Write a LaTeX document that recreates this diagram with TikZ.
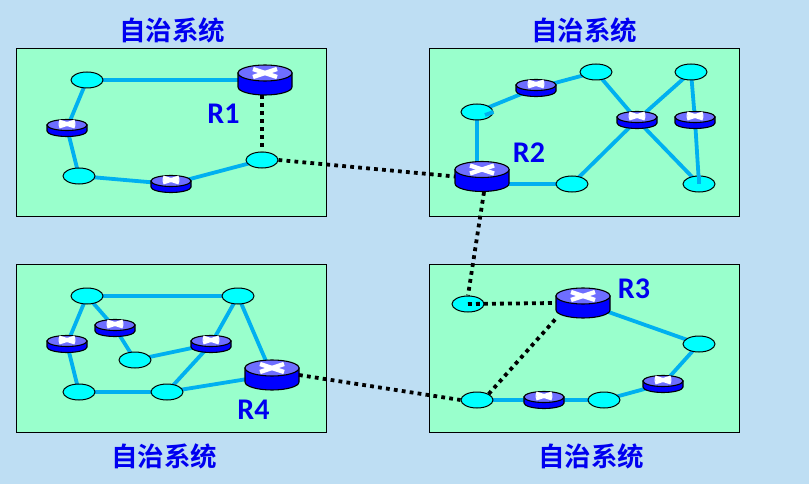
\documentclass[tikz,border=0pt]{standalone}
\usepackage{fontspec}
\setsansfont{Carlito}
\newfontfamily\cjkfont{Noto Sans CJK SC}[BoldFont={Noto Sans CJK SC Bold}]
\usetikzlibrary{shapes.geometric}
\pgfdeclarelayer{boxes}
\pgfdeclarelayer{links}
\pgfsetlayers{boxes,links,main}

\definecolor{skyback}{RGB}{190,222,243}
\definecolor{areagreen}{RGB}{153,255,204}
\definecolor{linkblue}{RGB}{0,176,240}
\definecolor{hostcyan}{RGB}{0,255,255}
\definecolor{routertop}{RGB}{110,110,255}
\definecolor{labelblue}{RGB}{0,0,240}

% #1 name, #2 x, #3 y
\newcommand{\bigrouter}[3]{
  \begin{scope}[shift={(#2,#3)}]
    \draw [routerline, fill=blue] (-27,7) -- (-27,-7) arc [start angle=180, end angle=360, x radius=27, y radius=8] -- (27,7) -- cycle;
    \draw [routerline, fill=routertop] (0,7) ellipse [x radius=27, y radius=8];
    \draw [crossline, line width=4.4pt] (-12,3) -- (12,11);
    \draw [crossline, line width=4.4pt] (-12,11) -- (12,3);
    \node [routernode, minimum width=54pt, minimum height=31pt] (#1) at (0,0) {};
  \end{scope}
}
\newcommand{\smallrouter}[3]{
  \begin{scope}[shift={(#2,#3)}]
    \draw [routerline, fill=blue] (-20,3) -- (-20,-3) arc [start angle=180, end angle=360, x radius=20, y radius=5.5] -- (20,3) -- cycle;
    \draw [routerline, fill=routertop] (0,3) ellipse [x radius=20, y radius=5.5];
    \draw [crossline, line width=4pt] (-8,1.5) -- (8,6.5);
    \draw [crossline, line width=4pt] (-8,6.5) -- (8,1.5);
    \node [routernode, minimum width=40pt, minimum height=17pt] (#1) at (0,0) {};
  \end{scope}
}

\begin{document}
\begin{tikzpicture}[x=1pt,y=1pt]
\tikzset{
  routerline/.style={draw=black,line width=1.1pt},
  crossline/.style={color=white},
  routernode/.style={inner sep=0pt,outer sep=0pt},
  hostnode/.style={ellipse,draw=black,line width=1pt,fill=hostcyan,minimum width=32pt,minimum height=16pt,inner sep=0pt},
  arealink/.style={color=linkblue,line width=3.8pt},
  outerlink/.style={color=black,line width=3.8pt,dash pattern=on 3.8pt off 4.2pt},
  areabox/.style={draw=black,line width=.8pt,fill=areagreen},
  areatitle/.style={color=labelblue,font=\cjkfont\bfseries\fontsize{26.5}{26.5}\selectfont},
  routerlabel/.style={color=labelblue,font=\sffamily\bfseries\fontsize{30}{30}\selectfont}
};

\useasboundingbox (0,0) rectangle (809,-484);

\begin{pgfonlayer}{boxes}
\fill [skyback] (0,0) rectangle (809,-484);
\draw [areabox] (16,-48.5) rectangle (326,-216);
\draw [areabox] (429.5,-48.5) rectangle (739,-216);
\draw [areabox] (16,-264.5) rectangle (326,-432);
\draw [areabox] (429.5,-264.5) rectangle (739,-432);
\end{pgfonlayer}

\node [areatitle] (title_1) at (172,-30) {自治系统};
\node [areatitle] (title_2) at (584,-30) {自治系统};
\node [areatitle] (title_4) at (164,-456) {自治系统};
\node [areatitle] (title_3) at (591,-456) {自治系统};

% upper left
\bigrouter{R_1}{265}{-80}
\smallrouter{a_1}{67}{-128}
\smallrouter{a_2}{171}{-184}
\node [hostnode] (h_1-1) at (87,-80) {};
\node [hostnode] (h_1-2) at (79,-176) {};
\node [hostnode] (h_1-3) at (262,-160) {};
\node [routerlabel] (lab_1) at (223.5,-114) {R1};

% upper right
\bigrouter{R_2}{482}{-176.5}
\smallrouter{b_1}{536}{-88}
\smallrouter{b_2}{637}{-120}
\smallrouter{b_3}{695}{-120}
\node [hostnode] (h_2-1) at (477,-112) {};
\node [hostnode] (h_2-2) at (596,-72) {};
\node [hostnode] (h_2-3) at (691,-72) {};
\node [hostnode] (h_2-4) at (572,-184) {};
\node [hostnode] (h_2-5) at (699,-184) {};
\node [routerlabel] (lab_2) at (529,-153) {R2};

% lower right
\bigrouter{R_3}{583}{-303}
\smallrouter{c_1}{544}{-400}
\smallrouter{c_2}{663}{-384}
\node [hostnode] (h_3-1) at (468,-304) {};
\node [hostnode] (h_3-2) at (699,-344) {};
\node [hostnode] (h_3-3) at (477,-400) {};
\node [hostnode] (h_3-4) at (604,-400) {};
\node [routerlabel] (lab_3) at (634,-289) {R3};

% lower left
\bigrouter{R_4}{272}{-375}
\smallrouter{d_1}{67}{-344}
\smallrouter{d_2}{115}{-328}
\smallrouter{d_3}{211}{-344}
\node [hostnode] (h_4-1) at (87,-296) {};
\node [hostnode] (h_4-2) at (238,-296) {};
\node [hostnode] (h_4-3) at (135,-360) {};
\node [hostnode] (h_4-4) at (79,-392) {};
\node [hostnode] (h_4-5) at (167,-392) {};
\node [routerlabel] (lab_4) at (253.5,-410) {R4};

\begin{pgfonlayer}{links}
\draw [arealink] (h_1-1.center) -- (R_1.center);
\draw [arealink] (h_1-1.center) -- (a_1.center);
\draw [arealink] (a_1.center) -- (h_1-2.center);
\draw [arealink] (h_1-2.center) -- (a_2.center);
\draw [arealink] (a_2.center) -- (h_1-3.center);

\draw [arealink] (h_2-1.center) -- (h_2-1 |- R_2.center);
\draw [arealink] (R_2.center |- h_2-4.center) -- (h_2-4.center);
\draw [arealink] (b_1.center) -- (h_2-2.center);
\draw [arealink] (h_2-2.center) -- (b_2.center);
\draw [arealink] (h_2-3.center) -- (b_2.center);
\draw [arealink] (h_2-4.center) -- (b_2.center);
\draw [arealink] (h_2-5.center) -- (b_2.center);
\draw [arealink] (h_2-3.center) -- (b_3.center);

\draw [arealink] (R_3.center) -- (h_3-2.center);
\draw [arealink] (h_3-2.center) -- (c_2.center);
\draw [arealink] (c_2.center) -- (h_3-4.center);
\draw [arealink] (h_3-4.center) -- (c_1.center);
\draw [arealink] (c_1.center) -- (h_3-3.center);

\draw [arealink] (h_4-1.center) -- (h_4-2.center);
\draw [arealink] (h_4-1.center) -- (d_1.center);
\draw [arealink] (d_1.center) -- (h_4-4.center);
\draw [arealink] (h_4-4.center) -- (h_4-5.center);
\draw [arealink] (h_4-1.center) -- (d_2.center);
\draw [arealink] (d_2.center) -- (h_4-3.center);
\draw [arealink] (h_4-3.center) -- (d_3.center);
\draw [arealink] (d_3.center) -- (h_4-2.center);
\draw [arealink] (d_3.center) -- (h_4-5.center);
\draw [arealink] (h_4-5.center) -- (R_4.center);
\draw [arealink] (h_4-2.center) -- (R_4.center);

\draw [arealink] (b_1.center) -- (h_2-1.center);
\draw [arealink] (b_3.center) -- (h_2-5.center);
\end{pgfonlayer}

% these two ends run over the ellipse
\draw [arealink] ([xshift=8pt,yshift=-3pt]h_2-1.center) -- (h_2-1.east);
\draw [arealink] (h_2-5.north) -- (h_2-5.center);

\draw [outerlink] (h_1-3 |- R_1.south) -- (h_1-3.north);
\draw [outerlink] (h_1-3.east) -- (R_2.west);
\draw [outerlink] ([xshift=2pt]R_2.south) -- (h_3-1.north);
\draw [outerlink] (h_3-1.center) -- (R_3.west);
\draw [outerlink] (h_3-3.north east) -- (R_3.south west);
\draw [outerlink] (R_4.east) -- (h_3-3.west);
\end{tikzpicture}
\end{document}
